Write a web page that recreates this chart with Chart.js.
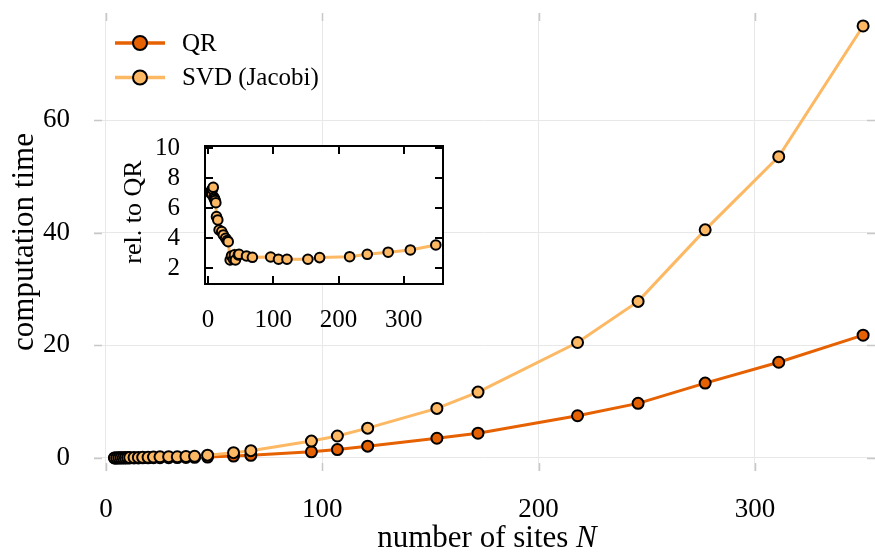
<!DOCTYPE html>
<html><head><meta charset="utf-8">
<script src="https://cdn.jsdelivr.net/npm/chart.js@4/dist/chart.umd.min.js"></script>
<style>
html,body{margin:0;padding:0;background:#fff;}
#wrap{position:relative;width:875px;height:552px;overflow:hidden;}
#main{position:absolute;left:0;top:0;}
#inset{position:absolute;left:110px;top:128px;}
</style></head><body>
<div id="wrap">
<canvas id="main" width="875" height="552"></canvas>
<canvas id="inset" width="345" height="215"></canvas>
</div>
<script>
// ---- data ----
const sites   = [4, 5, 6, 7, 8, 9, 10, 11, 13, 15, 17, 19.5, 22, 25, 29, 33, 37, 41, 47, 59, 67, 95, 107, 121, 153, 172, 218, 246, 277, 311, 350];
const qrTime  = [0.002, 0.003, 0.004, 0.005, 0.006, 0.008, 0.01, 0.012, 0.015, 0.02, 0.025, 0.03, 0.04, 0.05, 0.06, 0.08, 0.1, 0.12, 0.17, 0.34, 0.48, 1.1, 1.5, 2.1, 3.5, 4.4, 7.5, 9.7, 13.3, 17.0, 21.8];
const svdTime = [0.014, 0.02, 0.03, 0.035, 0.045, 0.05, 0.065, 0.08, 0.08, 0.1, 0.11, 0.13, 0.17, 0.2, 0.23, 0.21, 0.27, 0.31, 0.5, 0.95, 1.3, 3.0, 3.9, 5.3, 8.8, 11.7, 20.5, 27.8, 40.5, 53.5, 76.7];
const ratioSites  = [4, 5, 6, 7, 8, 9, 10, 11, 12, 13, 15, 17, 21, 23.5, 27, 29.5, 31, 34, 36, 39, 40.5, 42, 46.5, 47.5, 59, 68, 96, 108, 121, 153, 171, 217, 244, 276, 310, 349];
const ratioValues = [7.0, 7.15, 6.9, 7.25, 7.38, 6.7, 6.6, 6.5, 6.35, 5.42, 5.2, 4.53, 4.42, 4.2, 3.98, 3.82, 3.75, 2.53, 2.8, 2.58, 2.87, 2.53, 2.87, 2.91, 2.8, 2.71, 2.73, 2.58, 2.58, 2.58, 2.69, 2.75, 2.91, 3.05, 3.2, 3.53];
const seriesNames = ['QR', 'SVD (Jacobi)'];
const mainXTicks  = [0, 100, 200, 300];
const mainYTicks  = [0, 20, 40, 60];
const insetXTicks = [0, 100, 200, 300];
const insetYTicks = [2, 4, 6, 8, 10];
const xTitle = 'number of sites ';
const xTitleVar = 'N';
const yTitle = 'computation time';
const insetYTitle = 'rel. to QR';

// ---- styling ----
const FONT = "'Liberation Serif', 'Times New Roman', serif";
const C_QR = '#e66101';
const C_SVD = '#fdb863';

function pts(xs, ys){ return xs.map((x,i)=>({x:x, y:ys[i]})); }
function noPad(s){ s.paddingTop = 0; s.paddingBottom = 0; s.paddingLeft = 0; s.paddingRight = 0; }

const mainPlugin = {
  id:'mainDecor',
  afterDraw(chart){
    const ctx = chart.ctx, a = chart.chartArea;
    const xs = chart.scales.x, ys = chart.scales.y;
    ctx.save();
    // inner tick marks
    ctx.strokeStyle = '#c8c8c8'; ctx.lineWidth = 1.5;
    mainXTicks.forEach(v=>{
      const p = Math.round(xs.getPixelForValue(v))+0.5;
      ctx.beginPath(); ctx.moveTo(p,a.bottom); ctx.lineTo(p,a.bottom-8);
      ctx.moveTo(p,a.top); ctx.lineTo(p,a.top+8); ctx.stroke();
    });
    mainYTicks.forEach(v=>{
      const p = Math.round(ys.getPixelForValue(v))+0.5;
      ctx.beginPath(); ctx.moveTo(a.left,p); ctx.lineTo(a.left+8,p);
      ctx.moveTo(a.right,p); ctx.lineTo(a.right-8,p); ctx.stroke();
    });
    // legend
    const colors = [C_QR, C_SVD];
    seriesNames.forEach((name,i)=>{
      const y = 43 + i*34.5;
      ctx.strokeStyle = colors[i]; ctx.lineWidth = 3.5;
      ctx.beginPath(); ctx.moveTo(115,y); ctx.lineTo(165,y); ctx.stroke();
      ctx.beginPath(); ctx.arc(140,y,7,0,Math.PI*2);
      ctx.fillStyle = colors[i]; ctx.fill();
      ctx.strokeStyle = '#000'; ctx.lineWidth = 2; ctx.stroke();
      ctx.fillStyle = '#000'; ctx.font = '25px ' + FONT;
      ctx.textAlign = 'left'; ctx.textBaseline = 'middle';
      ctx.fillText(name, 182, y+1);
    });
    // axis titles
    ctx.fillStyle = '#000';
    ctx.font = '31px ' + FONT;
    ctx.textBaseline = 'alphabetic';
    const w1 = ctx.measureText(xTitle).width;
    ctx.font = 'italic 31px ' + FONT;
    const w2 = ctx.measureText(xTitleVar).width;
    const x0 = 487 - (w1+w2)/2;
    ctx.font = '31px ' + FONT; ctx.textAlign = 'left';
    ctx.fillText(xTitle, x0, 547);
    ctx.font = 'italic 31px ' + FONT;
    ctx.fillText(xTitleVar, x0 + w1, 547);
    ctx.translate(33, 242); ctx.rotate(-Math.PI/2);
    ctx.font = '31px ' + FONT; ctx.textAlign = 'center';
    ctx.fillText(yTitle, 0, 0);
    ctx.restore();
  }
};

new Chart(document.getElementById('main'), {
  type:'line',
  data:{datasets:[
    {label:seriesNames[0], data:pts(sites,qrTime), borderColor:C_QR, backgroundColor:C_QR,
     pointBackgroundColor:C_QR, pointBorderColor:'#000', pointBorderWidth:2, pointRadius:5.5,
     borderWidth:3, tension:0, order:1, clip:false},
    {label:seriesNames[1], data:pts(sites,svdTime), borderColor:C_SVD, backgroundColor:C_SVD,
     pointBackgroundColor:C_SVD, pointBorderColor:'#000', pointBorderWidth:2, pointRadius:5.5,
     borderWidth:3, tension:0, order:0, clip:false}
  ]},
  options:{
    responsive:false, animation:false, devicePixelRatio:1,
    layout:{autoPadding:false, padding:{top:13,right:0,left:0,bottom:0}},
    plugins:{legend:{display:false}, tooltip:{enabled:false}},
    scales:{
      x:{type:'linear', min:-5.5, max:355.5,
         afterBuildTicks:s=>{ s.ticks = mainXTicks.map(v=>({value:v})); },
         afterFit:s=>{ s.height = 81; noPad(s); },
         ticks:{font:{family:FONT,size:27}, color:'#000', padding:23, maxRotation:0, autoSkip:false},
         grid:{color:'#e8e8e8', lineWidth:1, drawTicks:false},
         border:{display:false}},
      y:{type:'linear', min:-2.31, max:79,
         afterBuildTicks:s=>{ s.ticks = mainYTicks.map(v=>({value:v})); },
         afterFit:s=>{ s.width = 94; noPad(s); },
         ticks:{font:{family:FONT,size:27}, color:'#000', padding:24, autoSkip:false},
         grid:{color:'#e8e8e8', lineWidth:1, drawTicks:false},
         border:{display:false}}
    }
  },
  plugins:[mainPlugin]
});

const insetPlugin = {
  id:'insetDecor',
  beforeDraw(chart){
    const ctx = chart.ctx, a = chart.chartArea;
    ctx.save(); ctx.fillStyle = '#fff';
    ctx.fillRect(a.left, a.top, a.right-a.left, a.bottom-a.top);
    ctx.restore();
  },
  afterDraw(chart){
    const ctx = chart.ctx, a = chart.chartArea;
    const xs = chart.scales.x, ys = chart.scales.y;
    ctx.save();
    ctx.strokeStyle = '#000'; ctx.lineWidth = 2;
    ctx.strokeRect(a.left, a.top, a.right-a.left, a.bottom-a.top);
    insetXTicks.forEach(v=>{
      const p = Math.round(xs.getPixelForValue(v));
      ctx.beginPath(); ctx.moveTo(p,a.bottom); ctx.lineTo(p,a.bottom-8);
      ctx.moveTo(p,a.top); ctx.lineTo(p,a.top+8); ctx.stroke();
    });
    insetYTicks.forEach(v=>{
      const p = Math.round(ys.getPixelForValue(v));
      ctx.beginPath(); ctx.moveTo(a.left,p); ctx.lineTo(a.left+8,p);
      ctx.moveTo(a.right,p); ctx.lineTo(a.right-8,p); ctx.stroke();
    });
    ctx.fillStyle = '#000';
    ctx.translate(31, 84); ctx.rotate(-Math.PI/2);
    ctx.font = '26px ' + FONT; ctx.textAlign = 'center'; ctx.textBaseline = 'alphabetic';
    ctx.fillText(insetYTitle, 0, 0);
    ctx.restore();
  }
};

new Chart(document.getElementById('inset'), {
  type:'line',
  data:{datasets:[
    {label:'ratio', data:pts(ratioSites,ratioValues), borderColor:C_SVD, backgroundColor:C_SVD,
     pointBackgroundColor:C_SVD, pointBorderColor:'#000', pointBorderWidth:2, pointRadius:4.8,
     borderWidth:3, tension:0}
  ]},
  options:{
    responsive:false, animation:false, devicePixelRatio:1,
    layout:{autoPadding:false, padding:{top:18,right:12,left:0,bottom:0}},
    plugins:{legend:{display:false}, tooltip:{enabled:false}},
    scales:{
      x:{type:'linear', min:-4.6, max:360,
         afterBuildTicks:s=>{ s.ticks = insetXTicks.map(v=>({value:v})); },
         afterFit:s=>{ s.height = 59; noPad(s); },
         ticks:{font:{family:FONT,size:25}, color:'#000', padding:21, maxRotation:0, autoSkip:false},
         grid:{display:false, drawTicks:false}, border:{display:false}},
      y:{type:'linear', min:0.93, max:10.13,
         afterBuildTicks:s=>{ s.ticks = insetYTicks.map(v=>({value:v})); },
         afterFit:s=>{ s.width = 95; noPad(s); },
         ticks:{font:{family:FONT,size:25}, color:'#000', padding:25, autoSkip:false},
         grid:{display:false, drawTicks:false}, border:{display:false}}
    }
  },
  plugins:[insetPlugin]
});
</script>
</body></html>
